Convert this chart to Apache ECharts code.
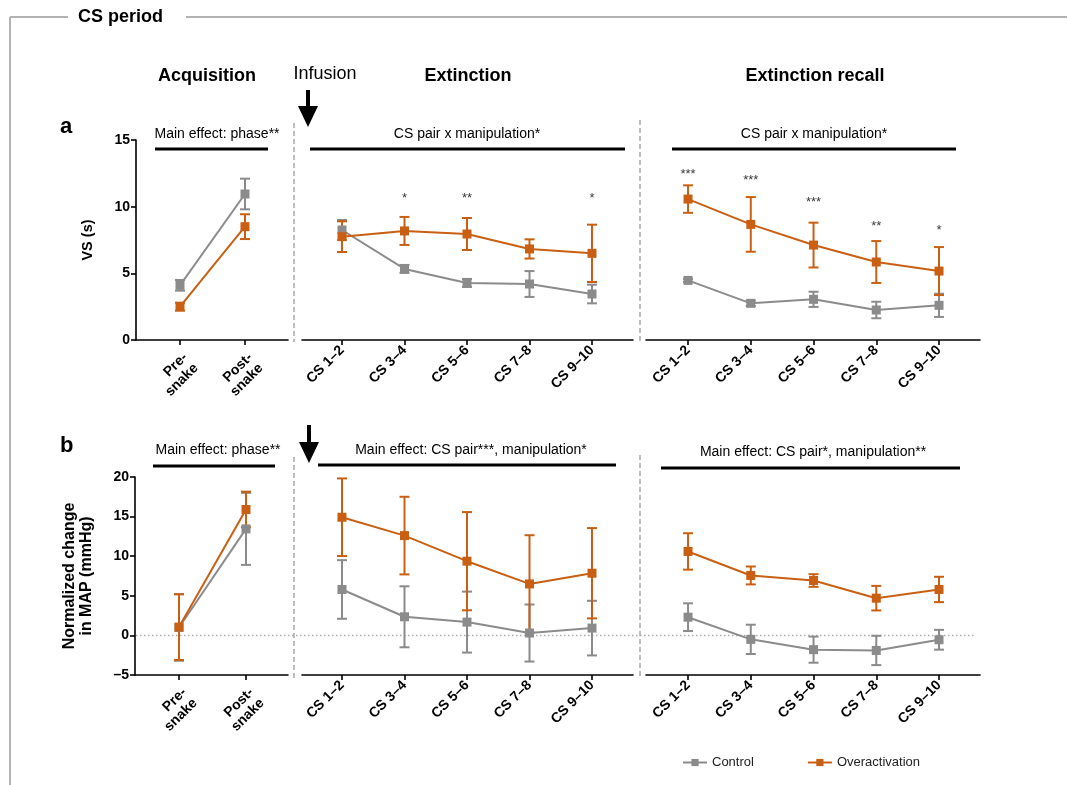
<!DOCTYPE html>
<html>
<head>
<meta charset="utf-8">
<script src="https://cdn.jsdelivr.net/npm/echarts@6/dist/echarts.min.js"></script>
<style>html,body{margin:0;padding:0;background:#fff;}#c{width:1067px;height:785px;}</style>
</head>
<body>
<div id="c"></div>
<script>
// ---------- data ----------
const acqCats = ['Pre-\nsnake', 'Post-\nsnake'];
const csCats = ['CS 1\u20132', 'CS 3\u20134', 'CS 5\u20136', 'CS 7\u20138', 'CS 9\u201310'];
const vsTicks = [0, 5, 10, 15];
const mapTicks = [-5, 0, 5, 10, 15, 20];

// VS (s)
const acqVsCtrl = [4.1, 10.95];
const acqVsCtrlErr = [0.4, 1.15];
const acqVsOver = [2.5, 8.5];
const acqVsOverErr = [0.3, 0.93];
const extVsCtrl = [8.25, 5.33, 4.28, 4.2, 3.45];
const extVsCtrlErr = [0.75, 0.3, 0.3, 0.97, 0.7];
const extVsOver = [7.75, 8.18, 7.95, 6.83, 6.5];
const extVsOverErr = [1.15, 1.05, 1.2, 0.72, 2.15];
const recVsCtrl = [4.47, 2.75, 3.05, 2.25, 2.6];
const recVsCtrlErr = [0.12, 0.2, 0.57, 0.62, 0.87];
const recVsOver = [10.57, 8.67, 7.12, 5.85, 5.17];
const recVsOverErr = [1.03, 2.05, 1.68, 1.57, 1.8];
const extVsStars = ['', '*', '**', '', '*'];
const extVsStarY = [null, 10.65, 10.65, null, 10.65];
const recVsStars = ['***', '***', '***', '**', '*'];
const recVsStarY = [12.45, 11.95, 10.35, 8.55, 8.25];

// Normalized change in MAP (mmHg)
const acqMapCtrl = [1.0, 13.45];
const acqMapCtrlErr = [4.2, 4.55];
const acqMapOver = [1.05, 15.9];
const acqMapOverErr = [4.15, 2.25];
const extMapCtrl = [5.8, 2.35, 1.68, 0.3, 0.92];
const extMapCtrlErr = [3.7, 3.85, 3.85, 3.6, 3.45];
const extMapOver = [14.92, 12.6, 9.37, 6.5, 7.85];
const extMapOverErr = [4.9, 4.9, 6.2, 6.15, 5.7];
const recMapCtrl = [2.3, -0.5, -1.8, -1.9, -0.55];
const recMapCtrlErr = [1.75, 1.85, 1.65, 1.85, 1.25];
const recMapOver = [10.6, 7.57, 6.93, 4.7, 5.8];
const recMapOverErr = [2.3, 1.13, 0.8, 1.55, 1.6];

// ---------- styling ----------
const FONT = "'Liberation Sans', Arial, Helvetica, sans-serif";
const GRAY = '#8b8b8b';
const ORANGE = '#c95f12';

const chart = echarts.init(document.getElementById('c'), null, {renderer: 'canvas'});

const grids = [
  {left: 136, top: 140, width: 152, height: 200},
  {left: 302, top: 140, width: 331, height: 200},
  {left: 646, top: 140, width: 334, height: 200},
  {left: 135, top: 477, width: 153, height: 198},
  {left: 302, top: 477, width: 331, height: 198},
  {left: 646, top: 477, width: 334, height: 198}
];

function mkX(g, cats, min, max, multi) {
  const idx = cats.map((_, i) => i);
  const lab = {customValues: idx, formatter: v => cats[Math.round(v)] || '', rotate: 45,
    fontSize: 14, fontWeight: 'bold', color: '#000', margin: 8, lineHeight: 15, fontFamily: FONT};
  if (multi) { lab.verticalAlign = 'top'; lab.margin = 10; }
  return {
    type: 'value', gridIndex: g, min: min, max: max,
    axisLine: {onZero: false, lineStyle: {color: '#000', width: 1.6}},
    axisTick: {customValues: idx, length: 5, lineStyle: {color: '#000', width: 1.6}},
    axisLabel: lab,
    splitLine: {show: false}
  };
}
function mkY(g, min, max, ticks, show, name, nameGap, nameSize) {
  return {
    type: 'value', gridIndex: g, min: min, max: max, interval: 5, show: show,
    name: name, nameLocation: 'middle', nameGap: nameGap, nameRotate: 90, nameMoveOverlap: false,
    nameTextStyle: {fontSize: nameSize || 14, fontWeight: 'bold', color: '#000', lineHeight: 17, fontFamily: FONT},
    axisLine: {show: true, onZero: false, lineStyle: {color: '#000', width: 1.6}},
    axisTick: {show: true, length: 5, lineStyle: {color: '#000', width: 1.6}},
    axisLabel: {customValues: ticks, formatter: v => String(v).replace('-', '\u2013'),
      fontSize: 14, fontWeight: 'bold', color: '#000', margin: 6, fontFamily: FONT},
    splitLine: {show: false}
  };
}

function errRender(color) {
  return function (params, api) {
    const x = api.value(0), m = api.value(1), e = api.value(2);
    const t = api.coord([x, m + e]), b = api.coord([x, m - e]);
    const w = 5, st = {stroke: color, lineWidth: 2};
    return {type: 'group', children: [
      {type: 'line', shape: {x1: t[0], y1: t[1], x2: b[0], y2: b[1]}, style: st},
      {type: 'line', shape: {x1: t[0] - w, y1: t[1], x2: t[0] + w, y2: t[1]}, style: st},
      {type: 'line', shape: {x1: b[0] - w, y1: b[1], x2: b[0] + w, y2: b[1]}, style: st}
    ]};
  };
}

const series = [];
function addGroup(g, name, color, means, errs) {
  series.push({
    type: 'custom', name: name + ' SEM', xAxisIndex: g, yAxisIndex: g, clip: false,
    renderItem: errRender(color), encode: {x: 0, y: 1}, silent: true,
    data: means.map((m, i) => [i, m, errs[i]])
  });
  series.push({
    type: 'line', name: name, xAxisIndex: g, yAxisIndex: g,
    symbol: 'rect', symbolSize: 9, color: color,
    lineStyle: {color: color, width: 2}, itemStyle: {color: color},
    data: means.map((m, i) => [i, m]), silent: true
  });
}
function addStars(g, stars, ys) {
  series.push({
    type: 'scatter', xAxisIndex: g, yAxisIndex: g, symbolSize: 0, silent: true,
    data: ys.map((y, i) => [i, y]).filter(d => d[1] !== null),
    label: {show: true, position: 'inside', color: '#000', fontSize: 13, fontFamily: FONT,
      formatter: p => stars[p.data[0]]}
  });
}

addGroup(0, 'Control', GRAY, acqVsCtrl, acqVsCtrlErr);
addGroup(0, 'Overactivation', ORANGE, acqVsOver, acqVsOverErr);
addGroup(1, 'Control', GRAY, extVsCtrl, extVsCtrlErr);
addGroup(1, 'Overactivation', ORANGE, extVsOver, extVsOverErr);
addGroup(2, 'Control', GRAY, recVsCtrl, recVsCtrlErr);
addGroup(2, 'Overactivation', ORANGE, recVsOver, recVsOverErr);
addGroup(3, 'Control', GRAY, acqMapCtrl, acqMapCtrlErr);
addGroup(3, 'Overactivation', ORANGE, acqMapOver, acqMapOverErr);
addGroup(4, 'Control', GRAY, extMapCtrl, extMapCtrlErr);
addGroup(4, 'Overactivation', ORANGE, extMapOver, extMapOverErr);
addGroup(5, 'Control', GRAY, recMapCtrl, recMapCtrlErr);
addGroup(5, 'Overactivation', ORANGE, recMapOver, recMapOverErr);
addStars(1, extVsStars, extVsStarY);
addStars(2, recVsStars, recVsStarY);

const option = {
  animation: false,
  textStyle: {fontFamily: FONT},
  grid: grids,
  xAxis: [
    mkX(0, acqCats, -0.677, 1.662, true),
    mkX(1, csCats, -0.64, 4.656),
    mkX(2, csCats, -0.67, 4.653),
    mkX(3, acqCats, -0.657, 1.627, true),
    mkX(4, csCats, -0.64, 4.656),
    mkX(5, csCats, -0.67, 4.653)
  ],
  yAxis: [
    mkY(0, 0, 15, vsTicks, true, 'VS (s)', 40, 14.5),
    mkY(1, 0, 15, vsTicks, false),
    mkY(2, 0, 15, vsTicks, false),
    mkY(3, -5, 20, mapTicks, true, 'Normalized change\nin MAP (mmHg)', 40, 16),
    mkY(4, -5, 20, mapTicks, false),
    mkY(5, -5, 20, mapTicks, false)
  ],
  legend: {
    data: ['Control', 'Overactivation'], left: 677, top: 751, itemWidth: 24, itemHeight: 9,
    itemGap: 53, textStyle: {fontSize: 13, color: '#222', fontFamily: FONT}, selectedMode: false
  },
  series: series
};
chart.setOption(option);

// ---------- annotations ----------
function txt(x, y, s, font, align) {
  return {type: 'text', x: x, y: y, silent: true,
    style: {text: s, font: font, fill: '#000', align: align || 'center', verticalAlign: 'middle',
      textAlign: align || 'center', textVerticalAlign: 'middle'}};
}
function ln(x1, y1, x2, y2, color, w, dash) {
  return {type: 'line', silent: true, shape: {x1: x1, y1: y1, x2: x2, y2: y2},
    style: {stroke: color, lineWidth: w, lineDash: dash || null}};
}
const B18 = 'bold 18px ' + FONT;
const N14 = '14px ' + FONT;
const zeroY = chart.convertToPixel({yAxisIndex: 3}, 0);
const gfx = [
  ln(10, 17, 68, 17, '#9a9a9a', 1.5), ln(186, 17, 1067, 17, '#9a9a9a', 1.5), ln(10, 17, 10, 785, '#9a9a9a', 1.5),
  txt(78, 17, 'CS period', B18, 'left'),
  txt(207, 76, 'Acquisition', B18), txt(325, 74, 'Infusion', '18px ' + FONT),
  txt(468, 76, 'Extinction', B18), txt(815, 76, 'Extinction recall', B18),
  txt(60, 127, 'a', 'bold 22px ' + FONT, 'left'), txt(60, 446, 'b', 'bold 22px ' + FONT, 'left'),
  // arrows
  ln(308, 90, 308, 110, '#000', 4),
  {type: 'polygon', silent: true, shape: {points: [[298, 106], [318, 106], [308, 127]]}, style: {fill: '#000'}},
  ln(309, 425, 309, 446, '#000', 4),
  {type: 'polygon', silent: true, shape: {points: [[299, 442], [319, 442], [309, 463]]}, style: {fill: '#000'}},
  // dashed separators
  ln(294, 123, 294, 342, '#a8a8a8', 1.5, [5, 3]), ln(640, 120, 640, 342, '#a8a8a8', 1.5, [5, 3]),
  ln(294, 457, 294, 678, '#a8a8a8', 1.5, [5, 3]), ln(640, 455, 640, 678, '#a8a8a8', 1.5, [5, 3]),
  // zero reference line (panel b)
  ln(136, zeroY, 976, zeroY, '#aaaaaa', 1.5, [1.5, 2.5]),
  // significance bars
  ln(155, 149, 268, 149, '#000', 3), txt(217, 134, 'Main effect: phase**', N14),
  ln(310, 149, 625, 149, '#000', 3), txt(467, 134, 'CS pair x manipulation*', N14),
  ln(672, 149, 956, 149, '#000', 3), txt(814, 134, 'CS pair x manipulation*', N14),
  ln(153, 466, 275, 466, '#000', 3), txt(218, 450, 'Main effect: phase**', N14),
  ln(318, 465, 616, 465, '#000', 3), txt(471, 450, 'Main effect: CS pair***, manipulation*', N14),
  ln(661, 468, 960, 468, '#000', 3), txt(813, 452, 'Main effect: CS pair*, manipulation**', N14)
];
chart.setOption({graphic: gfx.map(e => Object.assign({z: 0}, e))});
</script>
</body>
</html>
